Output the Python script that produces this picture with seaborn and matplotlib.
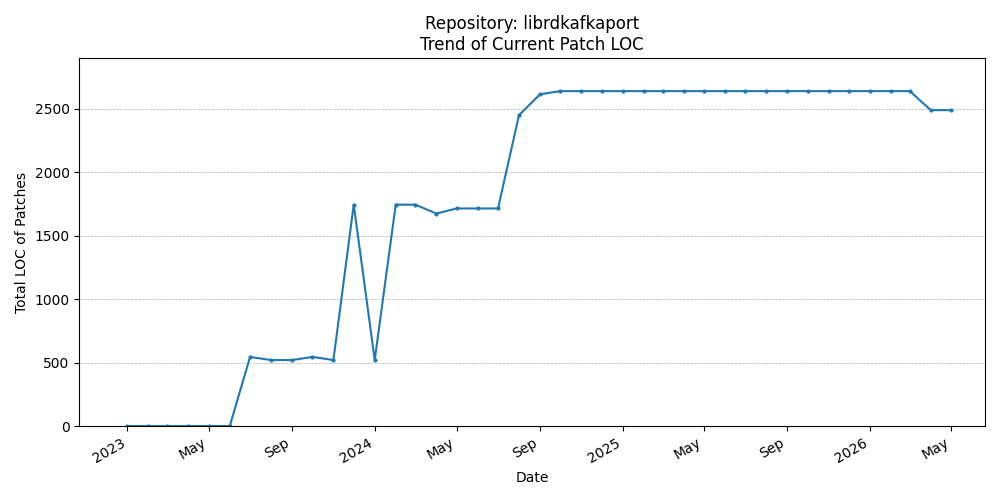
import matplotlib
matplotlib.use("Agg")
import matplotlib.pyplot as plt
import matplotlib.dates as mdates
import seaborn as sns
import pandas as pd

dates = pd.date_range("2023-01-01", "2026-05-01", freq="MS")
loc = ([0]*6 + [545, 520, 520, 545, 520, 1745,
        520, 1745, 1745, 1675, 1715, 1715, 1715, 2450, 2615]
       + [2640]*18 + [2490, 2490])
df = pd.DataFrame({"Date": dates, "LOC": loc})

fig, ax = plt.subplots(figsize=(10, 5), dpi=100)
sns.lineplot(data=df, x="Date", y="LOC", ax=ax, marker="o", markersize=3,
             markeredgewidth=0, color="#1f77b4")
ax.set_ylim(0, 2900)
ax.set_xlim(pd.Timestamp("2022-10-22"), pd.Timestamp("2026-06-20"))
ticks = [pd.Timestamp(f"{y}-{m:02d}-01") for y in (2023, 2024, 2025, 2026) for m in (1, 5, 9) if not (y == 2026 and m == 9)]
ax.set_xticks(ticks)
ax.set_xticklabels([str(t.year) if t.month == 1 else t.strftime("%b") for t in ticks])
ax.grid(axis="y", linestyle="--", linewidth=0.5)
ax.set_title("Repository: librdkafkaport\nTrend of Current Patch LOC")
ax.set_xlabel("Date")
ax.set_ylabel("Total LOC of Patches")
fig.autofmt_xdate()
fig.tight_layout()
fig.savefig("out.png")
